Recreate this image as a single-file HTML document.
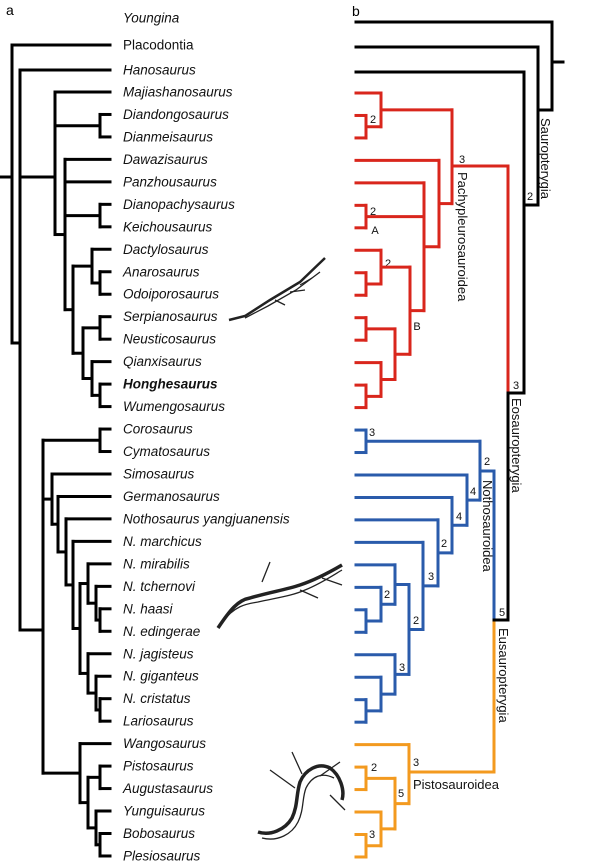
<!DOCTYPE html>
<html><head><meta charset="utf-8">
<style>
html,body{margin:0;padding:0;background:#fff;}
svg{display:block;}
text{font-family:"Liberation Sans",Arial,sans-serif;}
.tx{font-size:13.5px;font-style:italic;fill:#111;}
.nm{font-size:11px;fill:#111;text-anchor:middle;dominant-baseline:central;}
.cl{font-size:13px;fill:#111;}
</style></head>
<body>
<svg id="s" width="600" height="865" viewBox="0 0 600 865" xmlns="http://www.w3.org/2000/svg">
<text x="6" y="15" style="font-size:14px">a</text>
<text x="352" y="16" style="font-size:14px">b</text>
<g id="lab"></g>
<g id="tr" fill="none" stroke-linecap="square"></g>
<g id="fos" fill="none" stroke="#222" stroke-width="1.3">
 <path d="M229 320 L245 316 L270 300 L300 282 L325 258" stroke-width="2.5"/>
 <path d="M245 318 L268 306 L296 290 L320 272" />
 <path d="M290 292 L305 290 M275 300 L285 305 M300 285 L312 278"/>
 <path d="M218 628 C230 610 238 600 250 598 C270 592 285 590 300 585 C315 580 330 572 342 565" stroke-width="3.5"/>
 <path d="M222 622 C235 606 245 604 258 602 C275 598 292 596 305 590 C320 584 332 576 342 570" />
 <path d="M262 582 L270 562 M300 590 L318 598 M322 578 L342 585"/>
 <path d="M258 832 C270 836 285 830 292 818 C298 805 296 795 300 782 C305 770 318 762 330 768 C340 775 345 790 342 800" stroke-width="3.5"/>
 <path d="M262 838 C278 842 292 834 298 822 C304 810 302 798 306 788 C312 776 322 772 334 778"/>
 <path d="M295 788 L270 770 M302 774 L292 752 M320 776 L340 762 M330 795 L345 810"/>
</g>
</svg>
<script>
var NS="http://www.w3.org/2000/svg";
var tr=document.getElementById('tr'),lab=document.getElementById('lab');
function yl(i){return [18,45,70][i]!==undefined?[18,45,70][i]:92+(i-3)*22.47;}
function yr(i){return [22,47,72][i]!==undefined?[22,47,72][i]:93+(i-3)*22.47;}
function line(x1,y1,x2,y2,c,w){var l=document.createElementNS(NS,'line');l.setAttribute('x1',x1);l.setAttribute('y1',y1);l.setAttribute('x2',x2);l.setAttribute('y2',y2);l.setAttribute('stroke',c);l.setAttribute('stroke-width',w);tr.appendChild(l);}
var side,col,W;
function leaf(i){return {x:side==='L'?110:356,y:side==='L'?yl(i):yr(i)};}
function n(x,kids,ov){var ks=kids.map(function(k){return typeof k==='number'?leaf(k):k;});
 var ys=ks.map(function(k){return k.y;});var mn=Math.min.apply(null,ys),mx=Math.max.apply(null,ys);
 line(x,mn,x,mx,col,W);ks.forEach(function(k){line(k.x,k.y,x,k.y,col,W);});
 return {x:x,y:ov!==undefined?ov:(mn+mx)/2};}
side='L';col='#000';W=3;
var P=n(55,[3,n(100,[4,5]),n(65,[6,7,n(100,[8,9]),n(73,[n(92,[10,n(100,[11,12])]),n(83,[n(100,[13,14]),n(92,[15,n(100,[16,17])])])])])],177);
var E=n(43,[n(100,[18,19]),n(52,[20,n(58,[21,n(66,[22,n(73,[23,n(80,[n(88,[24,n(96,[25,n(100,[26,27])])]),n(88,[28,n(96,[29,n(100,[30,31])])])])])])])]),n(80,[32,n(88,[n(100,[33,34]),n(96,[35,n(100,[36,37])])])])],630);
var N20=n(20,[2,P,E],343);
n(12,[1,N20]);line(0,177,12,177,col,W);
side='R';W=3;col='#d9261c';
var RP=n(452,[n(381,[3,n(366,[4,5])]),n(439,[6,n(424,[7,n(366,[8,9]),n(410,[n(381,[10,n(366,[11,12])]),n(395,[n(366,[13,14]),n(381,[15,n(366,[16,17])])])])])])],166);
line(452,166,508,166,col,W);line(508,166,508,393,col,W);
col='#2a5bab';
var BN=n(480,[n(366,[18,19]),n(467,[20,n(452,[21,n(438,[22,n(423,[23,n(409,[n(395,[24,n(381,[25,n(366,[26,27])])]),n(395,[28,n(381,[29,n(366,[30,31])])])])])])])])],471);
line(480,471,494,471,col,W);line(494,471,494,620,col,W);
col='#f39a1f';
var OR=n(409,[32,n(395,[n(366,[33,34]),n(381,[35,n(366,[36,37])])])],772);
line(409,772,494,772,col,W);line(494,620,494,772,col,W);
col='#000';
line(494,620,508,620,col,W);line(508,393,508,620,col,W);
line(508,393,524,393,col,W);line(524,72,524,393,col,W);line(356,72,524,72,col,W);
line(524,205,538,205,col,W);line(538,47,538,205,col,W);line(356,47,538,47,col,W);
line(538,110,552,110,col,W);line(552,22,552,110,col,W);line(356,22,552,22,col,W);
line(552,62,563,62,col,W);
var names=["Youngina","Placodontia","Hanosaurus","Majiashanosaurus","Diandongosaurus","Dianmeisaurus","Dawazisaurus","Panzhousaurus","Dianopachysaurus","Keichousaurus","Dactylosaurus","Anarosaurus","Odoiporosaurus","Serpianosaurus","Neusticosaurus","Qianxisaurus","Honghesaurus","Wumengosaurus","Corosaurus","Cymatosaurus","Simosaurus","Germanosaurus","Nothosaurus yangjuanensis","N. marchicus","N. mirabilis","N. tchernovi","N. haasi","N. edingerae","N. jagisteus","N. giganteus","N. cristatus","Lariosaurus","Wangosaurus","Pistosaurus","Augustasaurus","Yunguisaurus","Bobosaurus","Plesiosaurus"];
names.forEach(function(s,i){var t=document.createElementNS(NS,'text');t.setAttribute('x',123);t.setAttribute('y',yl(i)+4.5);t.setAttribute('class','tx');t.textContent=s;
 if(i===1)t.style.fontStyle='normal';if(i===16)t.style.fontWeight='bold';lab.appendChild(t);});
var nums=[[373,120,'2'],[462,160,'3'],[373,212,'2'],[375,231,'A'],[388,264,'2'],[417,327,'B'],[530,197,'2'],[516,386,'3'],
[372,433,'3'],[487,462,'2'],[473,492,'4'],[459,517,'4'],[444,544,'2'],[431,577,'3'],[416,621,'2'],[387,595,'2'],[402,668,'3'],[502,613,'5'],
[416,763,'3'],[374,768,'2'],[401,794,'5'],[372,835,'3']];
nums.forEach(function(a){var t=document.createElementNS(NS,'text');t.setAttribute('x',a[0]);t.setAttribute('y',a[1]);t.setAttribute('class','nm');t.textContent=a[2];lab.appendChild(t);});
var rot=[[541,118,'Sauropterygia'],[512,398,'Eosauropterygia'],[458,172,'Pachypleurosauroidea'],[483,480,'Nothosauroidea'],[499,628,'Eusauropterygia']];
rot.forEach(function(a){var t=document.createElementNS(NS,'text');t.setAttribute('class','cl');t.setAttribute('transform','translate('+a[0]+','+a[1]+') rotate(90)');t.textContent=a[2];lab.appendChild(t);});
var t=document.createElementNS(NS,'text');t.setAttribute('class','cl');t.setAttribute('x',413);t.setAttribute('y',789);t.textContent='Pistosauroidea';lab.appendChild(t);
</script>
</body></html>
